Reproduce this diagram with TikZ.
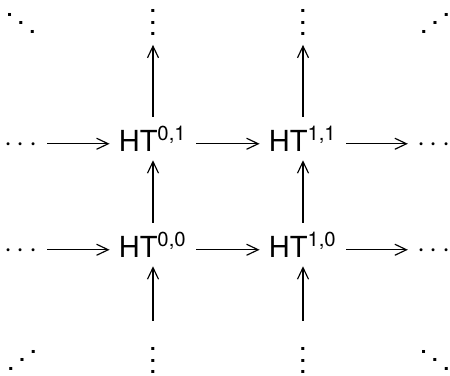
\documentclass[tikz,border=0pt]{standalone}
\usepackage{fontspec}
\setmainfont{TeX Gyre Heros}
\usepackage{graphicx}
\usetikzlibrary{arrows.meta}

% compact dot stacks (no extra space above the dots)
\newcommand{\vdotsc}{\vbox{\baselineskip4pt\lineskiplimit0pt\hbox{.}\hbox{.}\hbox{.}}}
\newcommand{\ddotsc}{\kern0.0556em\raisebox{6pt}{.}\kern0.111em\raisebox{3pt}{.}\kern0.111em.\kern0.0556em}
\newcommand{\adotsc}{\reflectbox{\ddotsc}}

\begin{document}
\begin{tikzpicture}[x=0.3448pt, y=-0.3448pt,
  cell/.style={inner sep=3pt, anchor=base},
  map/.style={-{Straight Barb[length=4pt,width=3.8pt]}, line width=0.4pt}]
\useasboundingbox (0,0) rectangle (450,375);

% top row of continuation dots
\node[cell] (TL) at (21,33.6) {\ddotsc};
\node[cell] (T0) at (153,35.6) {\vdotsc};
\node[cell] (T1) at (303,35.6) {\vdotsc};
\node[cell] (TR) at (435,33.6) {\adotsc};

% upper row
\node[cell] (L1) at (21,151) {$\cdots$};
\node[cell] (A01) at (153,151) {HT\textsuperscript{0,1}};
\node[cell] (A11) at (303,151) {HT\textsuperscript{1,1}};
\node[cell] (R1) at (434,151) {$\cdots$};

% lower row
\node[cell] (L0) at (21,257) {$\cdots$};
\node[cell] (A00) at (153,257) {HT\textsuperscript{0,0}};
\node[cell] (A10) at (303,257) {HT\textsuperscript{1,0}};
\node[cell] (R0) at (434,257) {$\cdots$};

% bottom row of continuation dots
\node[cell] (BL) at (22,370.6) {\adotsc};
\node[cell] (B0) at (153,373.6) {\vdotsc};
\node[cell] (B1) at (303,373.6) {\vdotsc};
\node[cell] (BR) at (435,370.6) {\ddotsc};

% horizontal maps, on the math axis
\foreach \a/\b in {L1/A01, A01/A11, A11/R1, L0/A00, A00/A10, A10/R0}
  \draw[map] ([yshift=2.5pt]\a.base east) -- ([yshift=2.5pt]\b.base west);

% vertical maps
\foreach \a/\b in {B0/A00, B1/A10}
  \draw[map] ([yshift=6pt]\a.north) -- (\b.south);
\foreach \a/\b in {A00/A01, A01/T0, A10/A11, A11/T1}
  \draw[map] (\a.north) -- (\b.south);
\end{tikzpicture}
\end{document}
